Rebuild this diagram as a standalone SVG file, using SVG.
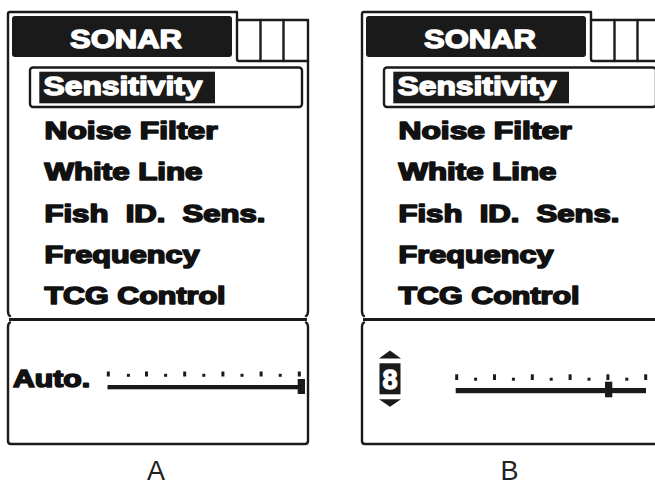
<svg xmlns="http://www.w3.org/2000/svg" width="655" height="485" viewBox="0 0 655 485">
<style>
.frame{fill:none;stroke:#1a1a1a;stroke-width:2.4;stroke-linejoin:round;stroke-linecap:round}
.thick{fill:none;stroke:#1a1a1a;stroke-width:3.2}
.blk{fill:#1a1a1a}
.menu{font-family:"Liberation Sans",Arial,sans-serif;font-weight:bold;font-size:24px;fill:#111;stroke:#111;stroke-width:1.6;stroke-linejoin:round}
.wtxt{font-family:"Liberation Sans",Arial,sans-serif;font-weight:bold;fill:#fff;stroke:#fff;stroke-width:1.4;stroke-linejoin:round}
.lbl{font-family:"Liberation Sans",Arial,sans-serif;font-size:27px;fill:#222;text-anchor:middle}
</style>
<rect width="655" height="485" fill="#fff"/>

<g id="panelA">
  <g id="A-upper">
    <path class="frame" d="M10,316 Q8,315 8,311 V14 Q8,12 10,12 H237 V59 Q237,61 239,61 H308"/>
    <path class="frame" d="M237,20 H308 V311 Q308,315 306,316"/>
    <line class="frame" x1="260.5" y1="20" x2="260.5" y2="61"/>
    <line class="frame" x1="283.5" y1="20" x2="283.5" y2="61"/>
    <rect class="blk" x="12" y="16" width="220" height="41" rx="3"/>
    <text class="wtxt" x="70" y="48" font-size="26.5" textLength="112" lengthAdjust="spacingAndGlyphs">SONAR</text>
    <rect x="30" y="67.5" width="272" height="39.5" rx="3" fill="none" stroke="#1a1a1a" stroke-width="2.4"/>
    <rect class="blk" x="39.3" y="71.7" width="175.7" height="31.6"/>
    <text class="wtxt" x="43.5" y="94.5" font-size="25" textLength="159" lengthAdjust="spacingAndGlyphs">Sensitivity</text>
    <text class="menu" x="44.5" y="139" textLength="173" lengthAdjust="spacingAndGlyphs">Noise Filter</text>
    <text class="menu" x="44.5" y="180" textLength="158" lengthAdjust="spacingAndGlyphs">White Line</text>
    <text class="menu" x="44.5" y="221.5" textLength="221" lengthAdjust="spacingAndGlyphs" xml:space="preserve">Fish  ID.  Sens.</text>
    <text class="menu" x="44.5" y="262.5" textLength="155" lengthAdjust="spacingAndGlyphs">Frequency</text>
    <text class="menu" x="44.5" y="304" textLength="181" lengthAdjust="spacingAndGlyphs">TCG Control</text>
  </g>
  <g id="A-lower">
    <line class="thick" x1="9" y1="319.5" x2="307" y2="319.5"/>
    <path class="frame" d="M10,322.5 Q8,323.5 8,327 V441 Q8,444 11,444 H305 Q308,444 308,441 V327 Q308,323.5 306,322.5"/>
    <text class="menu" x="13" y="386.5" font-size="22.5" textLength="77" lengthAdjust="spacingAndGlyphs">Auto.</text>
    <g class="blk">
      <rect x="106.8" y="371.5" width="3" height="5"/>
      <rect x="126.9" y="373.8" width="3" height="3"/>
      <rect x="145" y="371.5" width="3" height="5"/>
      <rect x="164.1" y="373.8" width="3" height="3"/>
      <rect x="183.2" y="371.5" width="3" height="5"/>
      <rect x="202.3" y="373.8" width="3" height="3"/>
      <rect x="221.4" y="371.5" width="3" height="5"/>
      <rect x="240.5" y="373.8" width="3" height="3"/>
      <rect x="259.6" y="371.5" width="3" height="5"/>
      <rect x="278.7" y="373.8" width="3" height="3"/>
      <rect x="297.8" y="371.5" width="3" height="5"/>
      <rect x="107.5" y="385" width="194" height="4.3"/>
      <rect x="297.7" y="379" width="7.3" height="15"/>
    </g>
  </g>
  <text class="lbl" x="156" y="479.5">A</text>
</g>

<g id="panelB">
  <g id="B-upper" transform="translate(354,0)">
    <path class="frame" d="M10,316 Q8,315 8,311 V14 Q8,12 10,12 H237 V59 Q237,61 239,61 H308"/>
    <path class="frame" d="M237,20 H308 V311 Q308,315 306,316"/>
    <line class="frame" x1="260.5" y1="20" x2="260.5" y2="61"/>
    <line class="frame" x1="283.5" y1="20" x2="283.5" y2="61"/>
    <rect class="blk" x="12" y="16" width="220" height="41" rx="3"/>
    <text class="wtxt" x="70" y="48" font-size="26.5" textLength="112" lengthAdjust="spacingAndGlyphs">SONAR</text>
    <rect x="30" y="67.5" width="272" height="39.5" rx="3" fill="none" stroke="#1a1a1a" stroke-width="2.4"/>
    <rect class="blk" x="39.3" y="71.7" width="175.7" height="31.6"/>
    <text class="wtxt" x="43.5" y="94.5" font-size="25" textLength="159" lengthAdjust="spacingAndGlyphs">Sensitivity</text>
    <text class="menu" x="44.5" y="139" textLength="173" lengthAdjust="spacingAndGlyphs">Noise Filter</text>
    <text class="menu" x="44.5" y="180" textLength="158" lengthAdjust="spacingAndGlyphs">White Line</text>
    <text class="menu" x="44.5" y="221.5" textLength="221" lengthAdjust="spacingAndGlyphs" xml:space="preserve">Fish  ID.  Sens.</text>
    <text class="menu" x="44.5" y="262.5" textLength="155" lengthAdjust="spacingAndGlyphs">Frequency</text>
    <text class="menu" x="44.5" y="304" textLength="181" lengthAdjust="spacingAndGlyphs">TCG Control</text>
  </g>
  <g id="B-lower">
    <line class="thick" x1="363" y1="319.5" x2="661" y2="319.5"/>
    <path class="frame" d="M364,322.5 Q362,323.5 362,327 V441 Q362,444 365,444 H659 Q662,444 662,441 V327"/>
    <g class="blk">
      <polygon points="379,358.5 401,358.5 390,350.5"/>
      <rect x="379.5" y="363.3" width="21" height="31"/>
      <polygon points="379,399.3 401,399.3 390,406.8"/>
    </g>
    <text class="wtxt" x="390" y="388.5" font-size="27" text-anchor="middle" stroke-width="0.8">8</text>
    <g class="blk">
      <rect x="455.2" y="374.3" width="3" height="5.7"/>
      <rect x="474.1" y="377.7" width="3" height="3"/>
      <rect x="493" y="374.3" width="3" height="5.7"/>
      <rect x="511.9" y="377.7" width="3" height="3"/>
      <rect x="530.8" y="374.3" width="3" height="5.7"/>
      <rect x="549.7" y="377.7" width="3" height="3"/>
      <rect x="568.6" y="374.3" width="3" height="5.7"/>
      <rect x="587.5" y="377.7" width="3" height="3"/>
      <rect x="606.4" y="374.3" width="3" height="5.7"/>
      <rect x="625.3" y="377.7" width="3" height="3"/>
      <rect x="644.2" y="374.3" width="3" height="5.7"/>
      <rect x="455.7" y="388" width="190.3" height="5.2"/>
      <rect x="605" y="381.7" width="7.3" height="15.6"/>
    </g>
  </g>
  <text class="lbl" x="509.5" y="479.5">B</text>
</g>
</svg>
